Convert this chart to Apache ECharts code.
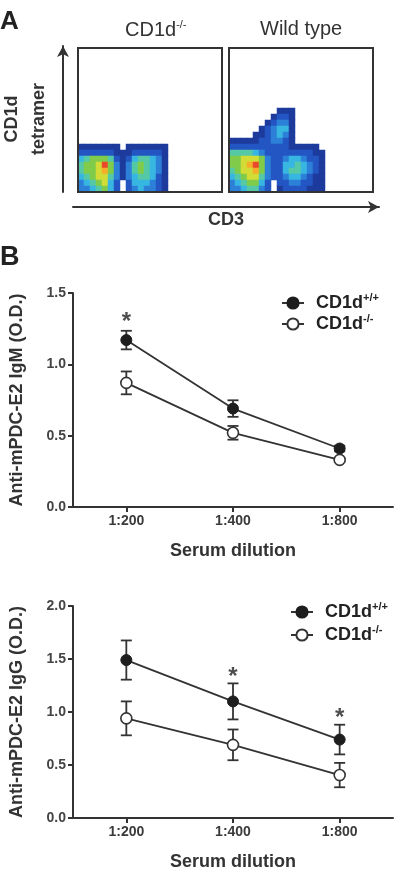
<!DOCTYPE html>
<html>
<head>
<meta charset="utf-8">
<script src="https://cdn.jsdelivr.net/npm/echarts@6/dist/echarts.min.js"></script>
<style>
html, body { margin: 0; padding: 0; background: #fff; }
#chart { width: 400px; height: 874px; }
</style>
</head>
<body>
<div id="chart"></div>
<script>
// panel A: density, one string per row (top row first),
// 0 = empty, 1..9 = dark blue -> red
const koDensity = [
    '111111101111111',
    '222222111222221',
    '456665212455431',
    '566796313565431',
    '566786313565431',
    '456775313455421',
    '345674202444321',
    '334564202343321'
];
const wtDensity = [
    '0000000011100000',
    '0000000122100000',
    '0000001233100000',
    '0000012344100000',
    '0000112343100000',
    '1111122332100000',
    '2222222222111110',
    '5555432222222211',
    '6677763223443221',
    '6678963224454321',
    '5677863224554321',
    '4567753223443211',
    '3456642022332211',
    '3345532012222111'
];
const densityColors = ['#1c3b9c', '#2356c2', '#2c80d8', '#38b6e2', '#55c8a6', '#80cc4a', '#d2dc36', '#f4ae2a', '#e84a2a'];
const cellCount = 24;

// panel B
const dilutions = ['1:200', '1:400', '1:800'];
const groups = ['CD1d+/+', 'CD1d-/-'];
const groupSup = ['+/+', '-/-'];

const igmWt = [1.17, 0.69, 0.41];
const igmWtErr = [0.065, 0.058, 0.02];
const igmKo = [0.87, 0.52, 0.33];
const igmKoErr = [0.08, 0.048, 0.015];
const igmStarAt = [1];
const igmStarY = [1.33];

const iggWt = [1.49, 1.10, 0.74];
const iggWtErr = [0.185, 0.17, 0.14];
const iggKo = [0.94, 0.69, 0.405];
const iggKoErr = [0.16, 0.145, 0.115];
const iggStarAt = [2, 3];
const iggStarY = [1.377, 0.99];

const font = "'Liberation Sans', Arial, sans-serif";
const ink = '#333';

function toCells(rows) {
    const cells = [];
    rows.forEach((row, i) => {
        const y = rows.length - 1 - i;
        row.split('').forEach((ch, x) => {
            const v = +ch;
            if (v > 0) cells.push([x, y, v]);
        });
    });
    return cells;
}

const cellAxis = Array.from({ length: cellCount }, (_, i) => i);

function heatAxis(gi) {
    return { type: 'category', gridIndex: gi, data: cellAxis, show: false };
}

function errorSeries(vals, errs, axis) {
    return {
        type: 'custom',
        xAxisIndex: axis,
        yAxisIndex: axis,
        z: 3,
        silent: true,
        data: vals.map((v, i) => [i + 1, v - errs[i], v + errs[i]]),
        encode: { x: 0, y: [1, 2] },
        renderItem: function (params, api) {
            const x = api.value(0);
            const lo = api.coord([x, api.value(1)]);
            const hi = api.coord([x, api.value(2)]);
            const w = 5.5;
            const style = { stroke: ink, lineWidth: 1.8 };
            return {
                type: 'group',
                children: [
                    { type: 'line', shape: { x1: hi[0], y1: hi[1], x2: lo[0], y2: lo[1] }, style: style },
                    { type: 'line', shape: { x1: hi[0] - w, y1: hi[1], x2: hi[0] + w, y2: hi[1] }, style: style },
                    { type: 'line', shape: { x1: lo[0] - w, y1: lo[1], x2: lo[0] + w, y2: lo[1] }, style: style }
                ]
            };
        }
    };
}

function lineSeries(gi, vals, axis) {
    const filled = gi === 0;
    return {
        name: groups[gi],
        type: 'line',
        xAxisIndex: axis,
        yAxisIndex: axis,
        z: 4,
        data: vals.map((v, i) => [i + 1, v]),
        symbol: 'circle',
        symbolSize: 11,
        lineStyle: { color: ink, width: 1.8 },
        itemStyle: filled
            ? { color: '#1e1e1e', borderColor: '#1e1e1e', borderWidth: 1 }
            : { color: '#fff', borderColor: ink, borderWidth: 1.6 },
        emphasis: { disabled: true }
    };
}

function starSeries(at, ys, axis) {
    return {
        type: 'scatter',
        xAxisIndex: axis,
        yAxisIndex: axis,
        z: 5,
        silent: true,
        symbolSize: 1,
        itemStyle: { color: 'rgba(0,0,0,0)' },
        data: at.map((x, i) => [x, ys[i]]),
        label: {
            show: true,
            position: 'inside',
            formatter: '*',
            fontSize: 24,
            fontWeight: 'bold',
            fontFamily: font,
            color: '#222',
            offset: [0, 5]
        }
    };
}

function valueXAxis(gi) {
    return {
        type: 'value',
        gridIndex: gi,
        min: 0.5,
        max: 3.5,
        splitLine: { show: false },
        axisLine: { onZero: false, lineStyle: { color: ink, width: 2 } },
        axisTick: { show: true, customValues: [1, 2, 3], length: 5, lineStyle: { color: ink, width: 2 } },
        axisLabel: {
            customValues: [1, 2, 3],
            formatter: v => dilutions[Math.round(v) - 1],
            margin: 7,
            fontSize: 14,
            fontWeight: 'bold',
            fontFamily: font,
            color: '#3a3a3a'
        },
        name: 'Serum dilution',
        nameLocation: 'middle',
        nameGap: 35,
        nameTextStyle: { fontSize: 18, fontWeight: 'bold', fontFamily: font, color: '#333' }
    };
}

function valueYAxis(gi, max, title) {
    return {
        type: 'value',
        gridIndex: gi,
        min: 0,
        max: max,
        interval: 0.5,
        splitLine: { show: false },
        axisLine: { show: true, onZero: false, lineStyle: { color: ink, width: 2 } },
        axisTick: { show: true, length: 5, lineStyle: { color: ink, width: 2 } },
        axisLabel: {
            formatter: v => v.toFixed(1),
            margin: 7,
            fontSize: 14,
            fontWeight: 'bold',
            fontFamily: font,
            color: '#444'
        },
        name: title,
        nameLocation: 'middle',
        nameRotate: 90,
        nameGap: 47,
        nameTextStyle: { fontSize: 18, fontWeight: 'bold', fontFamily: font, color: '#333' }
    };
}

function legendAt(left, top, gap) {
    return {
        orient: 'vertical',
        left: left,
        top: top,
        padding: 0,
        itemWidth: 22,
        itemHeight: 14,
        itemGap: gap,
        data: groups,
        selectedMode: false,
        formatter: name => '{b|CD1d}{s|' + groupSup[groups.indexOf(name)] + '}',
        textStyle: {
            rich: {
                b: { fontSize: 18, fontWeight: 'bold', fontFamily: font, color: '#222', lineHeight: 22, padding: [0, 0, 0, 7] },
                s: { fontSize: 11, fontWeight: 'bold', fontFamily: font, color: '#222', verticalAlign: 'top', lineHeight: 22 }
            }
        }
    };
}

const chart = echarts.init(document.getElementById('chart'), null, { renderer: 'canvas' });

chart.setOption({
    animation: false,
    backgroundColor: '#fff',
    title: [
        { text: 'A', left: 0, top: 9, padding: 0, textStyle: { fontSize: 26, fontWeight: 'bold', fontFamily: font, color: '#222' } },
        { text: 'B', left: 0, top: 244, padding: 0, textStyle: { fontSize: 27, fontWeight: 'bold', fontFamily: font, color: '#222' } },
        {
            text: '{n|CD1d}{s|-/-}', left: 125, top: 19, padding: 0,
            textStyle: {
                fontWeight: 'normal',
                rich: {
                    n: { fontSize: 20, fontWeight: 'normal', fontFamily: font, color: '#333', lineHeight: 22 },
                    s: { fontSize: 11, fontWeight: 'normal', fontFamily: font, color: '#333', verticalAlign: 'top', lineHeight: 22 }
                }
            }
        },
        { text: 'Wild type', left: 260, top: 19, padding: 0, textStyle: { fontSize: 20, fontWeight: 'normal', fontFamily: font, color: '#333' } }
    ],
    grid: [
        { left: 78, top: 48, width: 144, height: 144, show: true, borderColor: ink, borderWidth: 2, backgroundColor: 'rgba(0,0,0,0)', z: 5 },
        { left: 229, top: 48, width: 144, height: 144, show: true, borderColor: ink, borderWidth: 2, backgroundColor: 'rgba(0,0,0,0)', z: 5 },
        { left: 62, top: 46, width: 1, height: 146 },
        { left: 73, top: 47, width: 306, height: 160 },
        { left: 69, top: 293, width: 324, height: 214 },
        { left: 69, top: 606, width: 324, height: 212 }
    ],
    xAxis: [
        heatAxis(0),
        heatAxis(1),
        { type: 'value', gridIndex: 2, show: false, min: 0, max: 1 },
        {
            type: 'value', gridIndex: 3, min: 0, max: 1,
            splitLine: { show: false }, axisTick: { show: false }, axisLabel: { show: false },
            axisLine: { show: true, onZero: false, symbol: ['none', 'arrow'], symbolSize: [9, 11], lineStyle: { color: ink, width: 2 } },
            name: 'CD3', nameLocation: 'middle', nameGap: 4,
            nameTextStyle: { fontSize: 18, fontWeight: 'bold', fontFamily: font, color: '#333', verticalAlign: 'top' }
        },
        valueXAxis(4),
        valueXAxis(5)
    ],
    yAxis: [
        heatAxis(0),
        heatAxis(1),
        {
            type: 'value', gridIndex: 2, min: 0, max: 1,
            splitLine: { show: false }, axisTick: { show: false }, axisLabel: { show: false },
            axisLine: { show: true, onZero: false, symbol: ['none', 'arrow'], symbolSize: [9, 11], lineStyle: { color: ink, width: 2 } },
            name: 'CD1d\ntetramer', nameLocation: 'middle', nameRotate: 90, nameGap: 10,
            nameTextStyle: { fontSize: 18, fontWeight: 'bold', fontFamily: font, color: '#333', lineHeight: 27 }
        },
        { type: 'value', gridIndex: 3, show: false, min: 0, max: 1 },
        valueYAxis(4, 1.5, 'Anti-mPDC-E2 IgM (O.D.)'),
        valueYAxis(5, 2.0, 'Anti-mPDC-E2 IgG (O.D.)')
    ],
    visualMap: {
        type: 'piecewise',
        show: false,
        seriesIndex: [0, 1],
        dimension: 2,
        pieces: densityColors.map((c, i) => ({ value: i + 1, color: c }))
    },
    legend: [legendAt(281, 292, 1), legendAt(290, 601, 3)],
    series: [
        { type: 'heatmap', xAxisIndex: 0, yAxisIndex: 0, data: toCells(koDensity), silent: true, z: 2 },
        { type: 'heatmap', xAxisIndex: 1, yAxisIndex: 1, data: toCells(wtDensity), silent: true, z: 2 },
        errorSeries(igmWt, igmWtErr, 4),
        errorSeries(igmKo, igmKoErr, 4),
        lineSeries(0, igmWt, 4),
        lineSeries(1, igmKo, 4),
        starSeries(igmStarAt, igmStarY, 4),
        errorSeries(iggWt, iggWtErr, 5),
        errorSeries(iggKo, iggKoErr, 5),
        lineSeries(0, iggWt, 5),
        lineSeries(1, iggKo, 5),
        starSeries(iggStarAt, iggStarY, 5)
    ]
});
</script>
</body>
</html>
